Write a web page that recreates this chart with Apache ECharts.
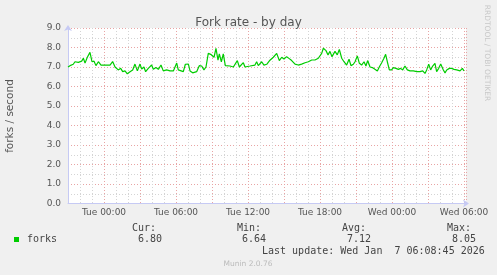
<!DOCTYPE html>
<html><head><meta charset="utf-8">
<script src="https://cdn.jsdelivr.net/npm/echarts@6/dist/echarts.min.js"></script>
<style>html,body{margin:0;padding:0;background:#f0f0f0;}#c{width:497px;height:275px;}</style>
</head><body><div id="c"></div>
<script>
// hours relative to Tue 00:00
const times = [-3.0,-2.83,-2.56,-2.42,-2.14,-1.86,-1.72,-1.58,-1.39,-1.17,-1.0,-0.83,-0.67,-0.47,-0.25,0.08,0.5,0.72,0.92,1.19,1.39,1.56,1.75,1.94,2.17,2.39,2.58,2.78,3.0,3.14,3.33,3.47,3.69,3.97,4.11,4.33,4.53,4.75,4.94,5.22,5.5,5.78,5.92,6.06,6.19,6.33,6.61,6.78,7.03,7.17,7.39,7.72,7.94,8.14,8.33,8.5,8.69,8.89,9.03,9.17,9.33,9.39,9.5,9.61,9.78,9.94,10.11,10.5,10.78,10.94,11.11,11.28,11.61,11.75,12.17,12.58,12.72,12.86,13.14,13.33,13.56,13.83,14.11,14.39,14.61,14.81,15.0,15.22,15.44,15.64,15.92,16.19,16.47,16.75,17.03,17.31,17.44,17.58,17.86,18.0,18.14,18.28,18.5,18.67,18.83,19.0,19.25,19.44,19.61,19.81,20.0,20.22,20.42,20.58,20.78,20.92,21.11,21.28,21.47,21.67,21.83,21.97,22.17,22.36,22.58,22.78,22.94,23.14,23.33,23.47,23.61,23.78,23.97,24.11,24.33,24.53,24.72,24.89,25.08,25.28,25.5,25.78,26.06,26.33,26.56,26.75,26.89,27.06,27.22,27.39,27.58,27.72,27.89,28.06,28.28,28.42,28.56,28.78,28.97,29.17,29.39,29.53,29.67,29.86,30.0];
const forks = [7.0,7.07,7.14,7.27,7.24,7.3,7.45,7.2,7.5,7.75,7.27,7.3,7.07,7.27,7.1,7.1,7.1,7.28,7.0,6.85,6.93,6.76,6.8,6.65,6.76,6.85,7.15,6.8,7.15,6.9,7.0,6.76,6.93,7.1,6.88,6.97,6.88,7.1,6.8,6.85,6.8,6.8,7.0,7.2,6.85,6.76,6.76,7.14,7.15,6.8,6.7,6.76,7.07,7.05,6.85,7.0,7.7,7.65,7.75,7.5,7.95,8.05,7.35,7.67,7.27,7.67,7.07,7.05,7.0,7.1,7.33,7.0,7.22,7.0,7.05,7.1,7.27,7.07,7.27,7.1,7.14,7.35,7.5,7.7,7.33,7.5,7.41,7.53,7.43,7.33,7.15,7.1,7.15,7.22,7.27,7.36,7.45,7.36,7.45,7.5,7.7,7.96,7.84,7.62,7.8,7.53,7.8,7.62,7.9,7.45,7.27,7.1,7.4,7.07,7.14,7.27,7.57,7.19,7.1,7.27,7.05,7.33,7.0,6.97,6.88,6.8,7.0,7.22,7.45,7.65,7.27,6.85,6.85,6.97,6.93,6.88,6.93,6.85,7.05,6.85,6.8,6.8,6.76,6.76,6.8,6.67,6.85,7.15,6.85,7.05,7.19,6.76,6.93,7.15,6.85,6.7,6.85,6.93,6.93,6.88,6.85,6.93,6.8,6.93,6.8];
const xLabelValues = [0, 6, 12, 18, 24, 30];
const xLabelTexts = ['Tue 00:00', 'Tue 06:00', 'Tue 12:00', 'Tue 18:00', 'Wed 00:00', 'Wed 06:00'];
const legendHeads = ['Cur:', 'Min:', 'Avg:', 'Max:'];
const legendValues = ['6.80', '6.64', '7.12', '8.05'];
const titleText = 'Fork rate - by day';
const yName = 'forks / second';
const seriesName = 'forks';
const lastUpdate = 'Last update: Wed Jan  7 06:08:45 2026';

const X_MIN = -3, X_MAX = 30.167;
const minorStyle = {color: '#d4d4d4', width: 1, type: [1, 2]};
const majorStyle = {color: '#e8a4a4', width: 1, type: [1, 2]};
const axisCol = '#c6caf4';
const mono = '"DejaVu Sans Mono", monospace';
const sans = '"DejaVu Sans", sans-serif';

const chart = echarts.init(document.getElementById('c'), null, {renderer: 'canvas'});
const hidden = {axisLine: {show: false}, axisTick: {show: false}, axisLabel: {show: false}};
const legendXs = [132, 237, 342, 447];
const valueXs = [138, 242, 347, 452];
const graphic = [
  {type: 'text', x: 10, y: 116, rotation: Math.PI / 2, style: {text: yName, font: '10.5px ' + sans, fill: '#555', align: 'center', verticalAlign: 'middle'}},
  {type: 'text', x: 487, y: 53, rotation: -Math.PI / 2, style: {text: 'RRDTOOL / TOBI OETIKER', font: '7.5px ' + sans, fill: '#c8c8c8', align: 'center', verticalAlign: 'middle'}},
  {type: 'rect', shape: {x: 14, y: 237, width: 5, height: 5}, style: {fill: '#00cc00'}},
  {type: 'text', x: 27, y: 239.5, style: {text: seriesName, font: '10px ' + mono, fill: '#444', align: 'left', verticalAlign: 'middle'}},
  {type: 'text', x: 262, y: 251, style: {text: lastUpdate, font: '10px ' + mono, fill: '#444', align: 'left', verticalAlign: 'middle'}},
  {type: 'text', x: 248, y: 264, style: {text: 'Munin 2.0.76', font: '7.5px ' + sans, fill: '#bbb', align: 'center', verticalAlign: 'middle'}}
];
legendHeads.forEach((h, i) => {
  graphic.push({type: 'text', x: legendXs[i], y: 228.5, style: {text: h, font: '10px ' + mono, fill: '#444', align: 'left', verticalAlign: 'middle'}});
  graphic.push({type: 'text', x: valueXs[i], y: 239.5, style: {text: legendValues[i], font: '10px ' + mono, fill: '#444', align: 'left', verticalAlign: 'middle'}});
});

chart.setOption({
  backgroundColor: '#f0f0f0',
  animation: false,
  title: {text: titleText, left: 'center', top: 12, textStyle: {fontFamily: sans, fontSize: 12, fontWeight: 'normal', color: '#555'}},
  grid: {left: 68, right: 31, top: 28, bottom: 71.5, show: true, backgroundColor: '#ffffff', borderWidth: 0},
  xAxis: [
    Object.assign({type: 'value', min: X_MIN, max: X_MAX, interval: 1, position: 'bottom', splitLine: {show: true, lineStyle: minorStyle}}, hidden),
    Object.assign({type: 'value', min: X_MIN, max: X_MAX, interval: 3, position: 'bottom', splitLine: {show: true, lineStyle: majorStyle}}, hidden),
    {type: 'value', min: X_MIN, max: X_MAX, position: 'bottom',
     axisLine: {show: true, onZero: false, lineStyle: {color: axisCol, width: 1}, symbol: ['none', 'arrow'], symbolSize: [6, 6], symbolOffset: [0, 3]},
     axisTick: {show: false}, splitLine: {show: false},
     axisLabel: {show: true, customValues: xLabelValues, margin: 5, fontFamily: sans, fontSize: 9, color: '#555',
       formatter: v => { const i = xLabelValues.indexOf(Math.round(v)); return i >= 0 ? xLabelTexts[i] : ''; }}}
  ],
  yAxis: [
    Object.assign({type: 'value', min: 0, max: 9, interval: 0.5, position: 'left', splitLine: {show: true, lineStyle: minorStyle}}, hidden),
    {type: 'value', min: 0, max: 9, interval: 1, position: 'left',
     axisLine: {show: true, onZero: false, lineStyle: {color: axisCol, width: 1}, symbol: ['none', 'arrow'], symbolSize: [6, 6], symbolOffset: [0, 3]},
     axisTick: {show: false},
     splitLine: {show: true, lineStyle: majorStyle},
     axisLabel: {margin: 7, fontFamily: sans, fontSize: 9, color: '#555', formatter: v => v.toFixed(1)}}
  ],
  series: [{
    name: seriesName, type: 'line', xAxisIndex: 2, yAxisIndex: 1,
    data: times.map((t, i) => [t, forks[i]]),
    showSymbol: false, smooth: false, z: 5,
    lineStyle: {color: '#00cc00', width: 1.2},
    itemStyle: {color: '#00cc00'},
    markLine: {silent: true, z: 10, symbol: ['none', 'none'], label: {show: false},
      lineStyle: {color: '#707070', width: 1.5, type: 'solid'}, data: [{xAxis: X_MAX}]}
  }],
  graphic: graphic
});
</script></body></html>
